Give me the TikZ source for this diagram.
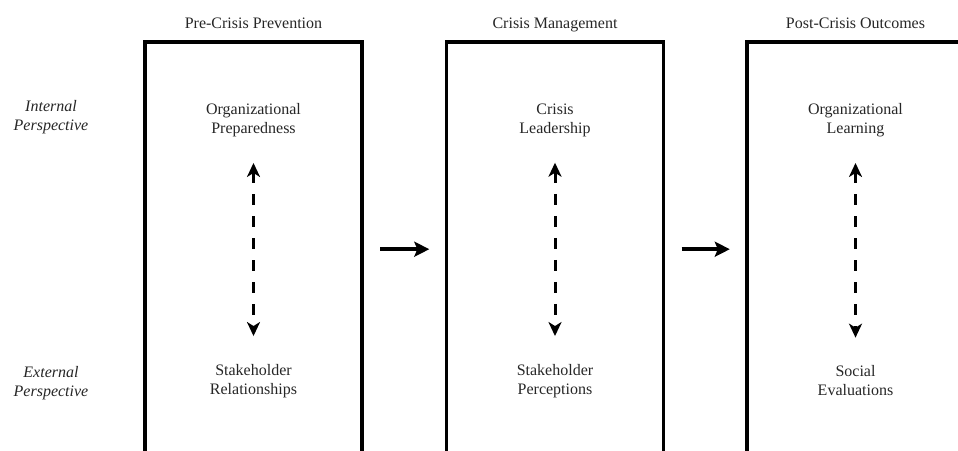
\documentclass[tikz,border=0pt]{standalone}
\usepackage{fontspec}
\setmainfont{Liberation Serif}
\usetikzlibrary{arrows.meta,positioning}

\tikzset{
  phase/.style={minimum width=217pt, minimum height=414pt, inner sep=0pt, anchor=north},
  frame/.style={line width=3.5pt, line join=miter},
  heading/.style={anchor=base, inner sep=0pt, text=black!85, font=\fontsize{16}{19}\selectfont},
  concept/.style={align=center, inner sep=0pt, text=black!85, font=\fontsize{16}{19}\selectfont},
  perspective/.style={concept, font=\fontsize{16}{19}\selectfont\itshape},
  flow/.style={line width=4.5pt, -{Stealth[length=15pt,width=15pt,inset=3pt]}},
  link/.style={line width=3pt, dash pattern=on 11pt off 11pt,
    {Stealth[length=14pt,width=13pt,inset=4pt]}-{Stealth[length=14pt,width=13pt,inset=4pt]}}
}

\begin{document}
\begin{tikzpicture}[x=1pt, y=-1pt]
\useasboundingbox (0,0) rectangle (958,450);

% phase frames, open at the bottom
\node[phase] (pre) at (253.5,42) {};
\node[phase] (mgmt) at (555,42) {};
\node[phase] (post) at (855.5,42) {};
\foreach \b in {pre,mgmt,post}
  \draw[frame] (\b.south west) |- (\b.north east) -- (\b.south east);

% headings
\node[heading] (preT) at ([yshift=14pt]pre.north) {Pre-Crisis Prevention};
\node[heading] (mgmtT) at ([yshift=14pt]mgmt.north) {Crisis Management};
\node[heading] (postT) at ([yshift=14pt]post.north) {Post-Crisis Outcomes};

% perspectives
\node[perspective] (int) at (51,117) {Internal\\Perspective};
\node[perspective] (ext) at (51,383) {External\\Perspective};

% internal side
\node[concept] (prep) at ([yshift=-78pt]pre.north) {Organizational\\Preparedness};
\node[concept] (lead) at ([yshift=-78pt]mgmt.north) {Crisis\\Leadership};
\node[concept] (learn) at ([yshift=-78pt]post.north) {Organizational\\Learning};

% external side
\node[concept] (rel) at ([yshift=-339pt]pre.north) {Stakeholder\\Relationships};
\node[concept] (perc) at ([yshift=-339pt]mgmt.north) {Stakeholder\\Perceptions};
\node[concept] (eval) at ([yshift=-339pt]post.north) {Social\\Evaluations};

% links inside each phase
\draw[link, shorten <=26pt, shorten >=28pt] (prep.south) -- (rel.north);
\draw[link, shorten <=26pt, shorten >=28pt] (lead.south) -- (perc.north);
\draw[link, shorten <=26pt, shorten >=28pt] (learn.south) -- (eval.north);

% flow between phases
\draw[flow] ([xshift=18pt]pre.east) -- ([xshift=-17pt]mgmt.west);
\draw[flow] ([xshift=18pt]mgmt.east) -- ([xshift=-17pt]post.west);
\end{tikzpicture}
\end{document}
